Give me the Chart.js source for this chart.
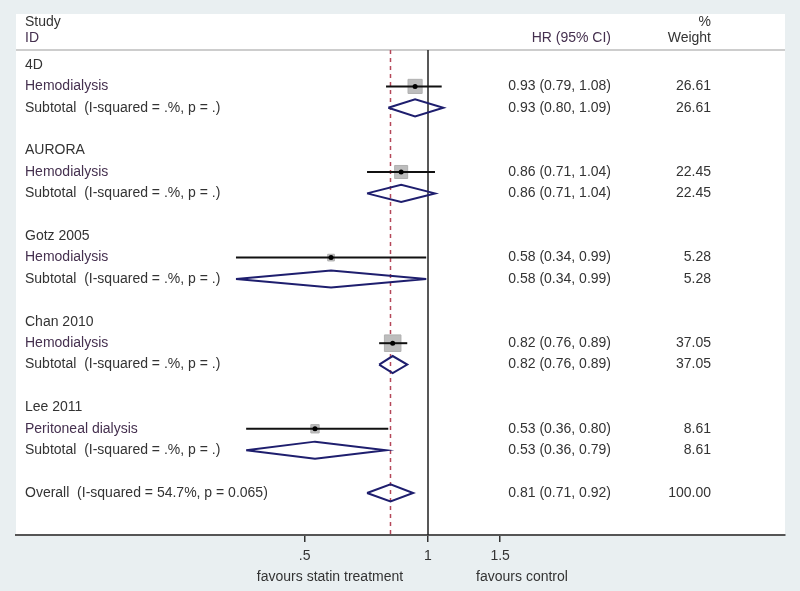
<!DOCTYPE html>
<html>
<head>
<meta charset="utf-8">
<title>Forest plot</title>
<script src="https://cdn.jsdelivr.net/npm/chart.js@4.4.1/dist/chart.umd.min.js"></script>
<style>
  html, body { margin: 0; padding: 0; background: #e9eff1; }
  #wrap { width: 800px; height: 591px; position: relative; }
</style>
</head>
<body>
<div id="wrap"><canvas id="forest"></canvas></div>
<script>
// study data
const studies = ['4D', 'AURORA', 'Gotz 2005', 'Chan 2010', 'Lee 2011'];
const subgroups = ['Hemodialysis', 'Hemodialysis', 'Hemodialysis', 'Hemodialysis', 'Peritoneal dialysis'];
const hr = [0.93, 0.86, 0.58, 0.82, 0.53];
const hrLo = [0.79, 0.71, 0.34, 0.76, 0.36];
const hrHi = [1.08, 1.04, 0.99, 0.89, 0.80];
const subHr = [0.93, 0.86, 0.58, 0.82, 0.53];
const subLo = [0.80, 0.71, 0.34, 0.76, 0.36];
const subHi = [1.09, 1.04, 0.99, 0.89, 0.79];
const weights = [26.61, 22.45, 5.28, 37.05, 8.61];
const overallHr = 0.81, overallLo = 0.71, overallHi = 0.92, overallWeight = 100.00;
const subtotalLabel = 'Subtotal  (I-squared = .%, p = .)';
const overallLabel = 'Overall  (I-squared = 54.7%, p = 0.065)';
const xTicks = [0.5, 1, 1.5];
const xTickLabels = ['.5', '1', '1.5'];

// row layout: each study takes a block of 4 rows (name, estimate, subtotal, blank)
const rowName = i => 1 + 4 * i;
const rowEst = i => 2 + 4 * i;
const rowSub = i => 3 + 4 * i;
const rowOverall = 21;
const DIAMOND_H = 0.4;

const FONT_FAMILY = '"Liberation Sans", Arial, sans-serif';
const FONT = '14px ' + FONT_FAMILY;
const TEXT = '#333333';
const TEXT2 = '#45304f';

const fmt = (e, l, h) => `${e.toFixed(2)} (${l.toFixed(2)}, ${h.toFixed(2)})`;

const datasets = [];

// point estimates (on top)
datasets.push({
    data: studies.map((s, i) => ({ x: hr[i], y: rowEst(i) })),
    pointRadius: 2.5,
    backgroundColor: '#000000',
    borderColor: '#000000',
    borderWidth: 0,
    order: 0
});

// CI lines for each study
studies.forEach((s, i) => {
    datasets.push({
        data: [{ x: hrLo[i], y: rowEst(i) }, { x: hrHi[i], y: rowEst(i) }],
        showLine: true,
        borderColor: '#111111',
        borderWidth: 2,
        pointRadius: 0,
        order: 1
    });
});

// weight boxes
datasets.push({
    data: studies.map((s, i) => ({ x: hr[i], y: rowEst(i) })),
    pointStyle: 'rect',
    pointRadius: weights.map(w => 2.6 * Math.sqrt(w) / Math.SQRT2 + 0.5),
    backgroundColor: '#bdbdbd',
    borderColor: '#b0b0b0',
    borderWidth: 1,
    order: 2
});

// subtotal diamonds + overall diamond
const diamond = (e, l, h, r) => [
    { x: l, y: r }, { x: e, y: r - DIAMOND_H }, { x: h, y: r },
    { x: e, y: r + DIAMOND_H }, { x: l, y: r }
];
studies.forEach((s, i) => {
    datasets.push({
        data: diamond(subHr[i], subLo[i], subHi[i], rowSub(i)),
        showLine: true,
        borderColor: '#1e1e6e',
        borderWidth: 2,
        borderJoinStyle: 'miter',
        pointRadius: 0,
        order: 1
    });
});
datasets.push({
    data: diamond(overallHr, overallLo, overallHi, rowOverall),
    showLine: true,
    borderColor: '#1e1e6e',
    borderWidth: 2,
    borderJoinStyle: 'miter',
    pointRadius: 0,
    order: 1
});

// y range of the plot region (in row units)
const Y_MIN = -1.383, Y_MAX = 22.963;
const HEADER_LINE = 0.3;

// no-effect line
datasets.push({
    data: [{ x: 1, y: HEADER_LINE }, { x: 1, y: Y_MAX }],
    showLine: true,
    borderColor: '#222222',
    borderWidth: 1.5,
    pointRadius: 0,
    order: 3
});
// overall estimate line
datasets.push({
    data: [{ x: overallHr, y: HEADER_LINE }, { x: overallHr, y: Y_MAX }],
    showLine: true,
    borderColor: '#b5485a',
    borderWidth: 1.5,
    borderDash: [4, 4],
    pointRadius: 0,
    order: 4
});

const panelPlugin = {
    id: 'panel',
    beforeDraw(chart) {
        const { ctx, chartArea: a, scales } = chart;
        ctx.save();
        ctx.fillStyle = '#e9eff1';
        ctx.fillRect(0, 0, chart.width, chart.height);
        ctx.fillStyle = '#ffffff';
        ctx.fillRect(a.left, a.top, a.right - a.left, a.bottom - a.top);
        const yl = scales.y.getPixelForValue(HEADER_LINE);
        ctx.strokeStyle = '#cdcdcd';
        ctx.lineWidth = 2;
        ctx.beginPath();
        ctx.moveTo(a.left, yl);
        ctx.lineTo(a.right, yl);
        ctx.stroke();
        ctx.restore();
    }
};

const textPlugin = {
    id: 'forestText',
    afterDatasetsDraw(chart) {
        const { ctx, chartArea: a, scales } = chart;
        const y = v => scales.y.getPixelForValue(v);
        const xLabel = a.left + 9;
        const xHr = a.left + 595;
        const xW = a.left + 695;
        ctx.save();
        ctx.font = FONT;
        ctx.textBaseline = 'middle';

        const left = (t, r, c) => { ctx.textAlign = 'left'; ctx.fillStyle = c || TEXT; ctx.fillText(t, xLabel, y(r)); };
        const right = (t, x, r, c) => { ctx.textAlign = 'right'; ctx.fillStyle = c || TEXT; ctx.fillText(t, x, y(r)); };

        left('Study', -1);
        left('ID', -0.25, TEXT2);
        right('HR (95% CI)', xHr, -0.25, TEXT2);
        right('%', xW, -1);
        right('Weight', xW, -0.25);

        studies.forEach((s, i) => {
            left(s, rowName(i));
            left(subgroups[i], rowEst(i), TEXT2);
            left(subtotalLabel, rowSub(i));
            right(fmt(hr[i], hrLo[i], hrHi[i]), xHr, rowEst(i));
            right(weights[i].toFixed(2), xW, rowEst(i));
            right(fmt(subHr[i], subLo[i], subHi[i]), xHr, rowSub(i));
            right(weights[i].toFixed(2), xW, rowSub(i));
        });
        left(overallLabel, rowOverall);
        right(fmt(overallHr, overallLo, overallHi), xHr, rowOverall);
        right(overallWeight.toFixed(2), xW, rowOverall);

        // favours labels under the axis
        const x1 = scales.x.getPixelForValue(1);
        ctx.textAlign = 'center';
        ctx.fillStyle = TEXT;
        ctx.fillText('favours statin treatment', x1 - 98, 577);
        ctx.fillText('favours control', x1 + 94, 577);
        ctx.restore();
    }
};

new Chart(document.getElementById('forest'), {
    type: 'scatter',
    data: { datasets },
    plugins: [panelPlugin, textPlugin],
    options: {
        responsive: true,
        maintainAspectRatio: false,
        animation: false,
        layout: { padding: { left: 16, right: 15, top: 14, bottom: 0 } },
        plugins: {
            legend: { display: false },
            tooltip: { enabled: false }
        },
        scales: {
            x: {
                type: 'logarithmic',
                min: 0.0988,
                max: 7.431,
                bounds: 'data',
                afterBuildTicks: scale => { scale.ticks = xTicks.map(v => ({ value: v })); },
                afterFit: scale => { scale.height = 56; },
                border: { display: true, color: '#555555', width: 2 },
                grid: { drawOnChartArea: false, drawTicks: true, tickLength: 7, color: '#333333', lineWidth: 1.5 },
                ticks: {
                    autoSkip: false,
                    maxRotation: 0,
                    padding: 6,
                    color: TEXT,
                    font: { family: FONT_FAMILY, size: 14 },
                    callback: value => xTickLabels[xTicks.indexOf(value)]
                }
            },
            y: {
                type: 'linear',
                reverse: true,
                min: Y_MIN,
                max: Y_MAX,
                display: false
            }
        }
    }
});
</script>
</body>
</html>
